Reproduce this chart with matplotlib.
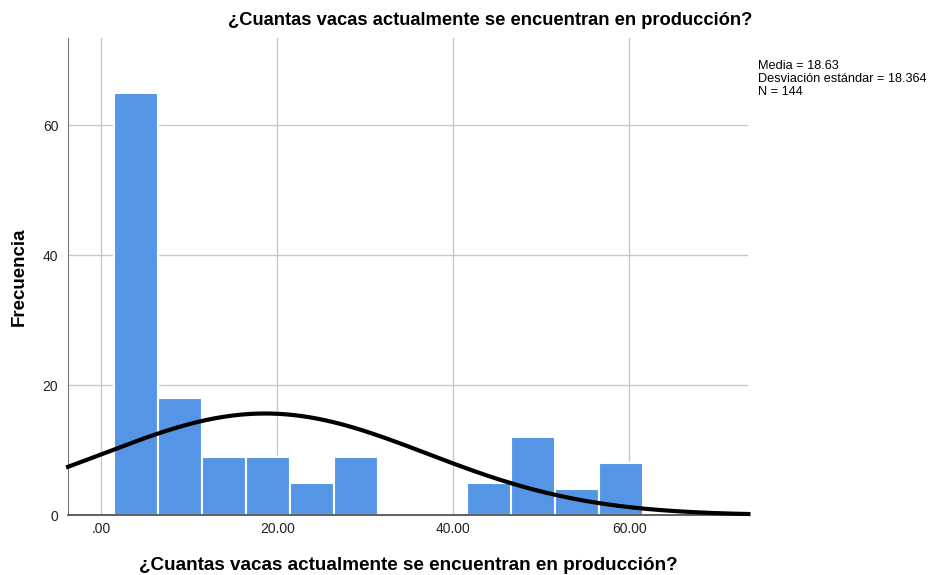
import numpy as np
import matplotlib.pyplot as plt

plt.rcParams['font.family'] = ['Liberation Sans', 'DejaVu Sans']

# histogram bins (width 5) and counts
bin_edges = [1.5, 6.5, 11.5, 16.5, 21.5, 26.5, 31.5, 36.5, 41.5, 46.5, 51.5, 56.5, 61.5]
counts = [65, 18, 9, 9, 5, 9, 0, 0, 5, 12, 4, 8]

media = 18.63
desv = 18.364
n = 144
bin_width = 5

xticks = [0, 20, 40, 60]
xtick_labels = [".00", "20.00", "40.00", "60.00"]
yticks = [0, 20, 40, 60]

titulo = "¿Cuantas vacas actualmente se encuentran en producción?"


def main():
    fig = plt.figure(figsize=(9.32, 5.75), dpi=100)
    ax = fig.add_axes([0.073, 0.104, 0.730, 0.830])

    ax.set_xlim(-3.75, 73.5)
    ax.set_ylim(0, 73.4)

    ax.set_axisbelow(True)
    ax.grid(True, color="#c8c8c8", linewidth=1.0)

    ax.hist(bin_edges[:-1], bins=bin_edges, weights=counts,
            color="#5595e5", edgecolor="white", linewidth=1.5, zorder=2)

    # normal curve scaled to counts
    xs = np.linspace(-3.75, 73.5, 400)
    ys = n * bin_width / (desv * np.sqrt(2 * np.pi)) * np.exp(-0.5 * ((xs - media) / desv) ** 2)
    ax.plot(xs, ys, color="black", linewidth=3, zorder=3, clip_on=False)

    ax.set_xticks(xticks)
    ax.set_xticklabels(xtick_labels)
    ax.set_yticks(yticks)
    ax.tick_params(length=0, labelsize=10, colors="#222222")
    ax.tick_params(axis="x", pad=5)
    ax.tick_params(axis="y", pad=7)

    for side in ["top", "right"]:
        ax.spines[side].set_visible(False)
    ax.spines["left"].set_color("#777777")
    ax.spines["bottom"].set_color("#444444")
    ax.spines["bottom"].set_linewidth(1.2)

    fig.text(0.526, 0.965, titulo, fontsize=13.2, fontweight="bold",
             ha="center", va="center")

    ax.set_xlabel(titulo, fontsize=13.6, fontweight="bold")
    ax.xaxis.set_label_coords(0.5, -0.105)
    ax.xaxis.label.set_va("center")

    ax.set_ylabel("Frecuencia", fontsize=13.5, fontweight="bold")
    ax.yaxis.set_label_coords(-0.071, 0.5)
    ax.yaxis.label.set_va("center")

    fig.text(0.813, 0.895,
             f"Media = {media:.2f}\nDesviación estándar = {desv:.3f}\nN = {n}",
             fontsize=9.2, va="top", ha="left", linespacing=1.1)

    fig.savefig("out.png", dpi=100)


if __name__ == "__main__":
    main()
